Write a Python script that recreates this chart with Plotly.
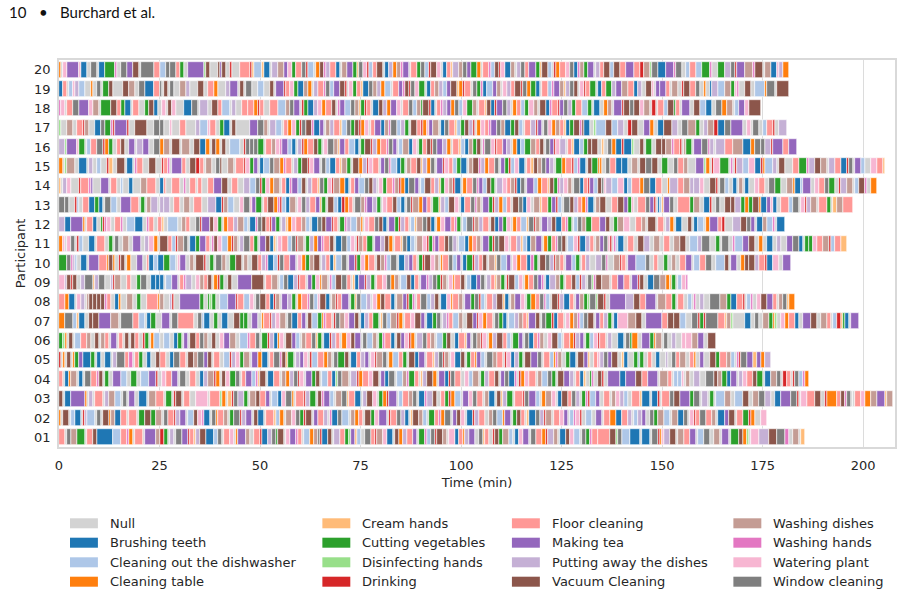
import plotly.graph_objects as go

# ---------------------------------------------------------------- data ----
# Activity codes -> legend names and colours
ACTIVITY_NAMES = {
    "N": "Null",
    "B": "Brushing teeth",
    "D": "Cleaning out the dishwasher",
    "T": "Cleaning table",
    "C": "Cream hands",
    "V": "Cutting vegetables",
    "I": "Disinfecting hands",
    "K": "Drinking",
    "F": "Floor cleaning",
    "M": "Making tea",
    "P": "Putting away the dishes",
    "U": "Vacuum Cleaning",
    "W": "Washing dishes",
    "H": "Washing hands",
    "L": "Watering plant",
    "G": "Window cleaning",
}
ACTIVITY_COLORS = {
    "N": "#d3d3d3", "B": "#1f77b4", "D": "#aec7e8", "T": "#ff7f0e",
    "C": "#ffbb78", "V": "#2ca02c", "I": "#98df8a", "K": "#d62728",
    "F": "#ff9896", "M": "#9467bd", "P": "#c5b0d5", "U": "#8c564b",
    "W": "#c49c94", "H": "#e377c2", "L": "#f7b6d2", "G": "#7f7f7f",
}
LEGEND_COLUMNS = [
    ["N", "B", "D", "T"],
    ["C", "V", "I", "K"],
    ["F", "M", "P", "U"],
    ["W", "H", "L", "G"],
]

PARTICIPANTS = ["01", "02", "03", "04", "05", "06", "07", "08", "09", "10",
                "11", "12", "13", "14", "15", "16", "17", "18", "19", "20"]
X_TICKS = [0, 25, 50, 75, 100, 125, 150, 175, 200]

# Each token: activity code + duration in half-minutes, in time order
UNIT_MIN = 0.5

SEQ_01 = """F3 N1 G2 W3 V4 N1 F3 U2 B8 D4 F3 H1 T2 N1 F4 N1 M5 W2 K2 V2
N1 P2 N1 G3 M3 K1 F2 C1 P2 U3 B4 D2 G2 N1 F3 L2 N1 T1 M4 W2
N2 F3 K1 B3 P2 G2 V1 U3 N1 L2 M3 H1 F2 N1 D3 T2 W2 G1 K1 B3
U2 N1 P3 F2 V2 I1 M2 C1 D2 N2 G3 F2 K1 W3 L2 B3 N1 U2 T2 P2
F3 M2 N1 V3 H1 D2 G2 K1 U3 W2 N1 L3 B2 F2 T1 P2 M3 N2 G2 C1
F2 N2 K1 U2 V2 W3 D2 N1 B2 L2 M3 N1 G2 F3 T2 K1 P3 W2 N1 B3
U2 L2 D3 N1 G2 V2 H1 F3 F6 U3 I1 G2 D4 B5 N1 B4 N1 G3
K1 T1 L1 P3 U3 N1 W3 F3 M3 N1 D3 G3 N2 W3 N1 M3 N1 V4 U2 T2
I1 N1 L4 P5 U4 G4 H2 N2 W3 N1 C2"""

SEQ_02 = """T1 N1 U3 N1 D2 B3 N1 K1 P1 D4 N1 G2 N1 U3 T1 W2 B3 F3 N1 F4
N1 V3 U3 V2 W3 N1 G2 F3 K1 P2 M3 N1 D3 U2 L2 H1 B3 N1 G2 T1
F3 W2 N1 V2 G3 K1 P2 M3 N1 U2 B3 N1 F4 C1 D2 T2 N1 W3 L2 G2
V2 K1 U3 N1 M2 F3 P2 N1 H1 B3 G2 D3 N1 W2 T2 F2 N1 U3 V2 L2
M4 N1 K1 F3 G2 P2 B2 N1 C1 U3 W2 D2 N1 V3 F2 H1 T2 G3 N1 M2
U2 L2 N1 B3 K1 P2 F3 N2 W2 G2 D3 T1 M3 N1 V2 U2 F2 N1 C1 B3
G2 P2 K1 W3 N1 F3 L2 M2 N1 D2 H1 L2 K1 N2 D3 N2 M3 N1 F3 T3
B3 F3 P2 N1 D2 P2 M2 N2 G2 V2 W3 D3 N1 W3 B3 G2 N1 L2 K1 F2
G3 F3 W2 N1 B3 M2 U3 N1 F3 V3 K1 T2 N3 L3"""

SEQ_03 = """U2 N1 B3 M7 T1 N1 P2 N1 F4 N1 P2 W3 D3 N1 G2 N1 M3 N2 B4 N1
W3 F4 N1 V3 N1 K1 U3 N1 F3 N3 L6 N1 F5 I1 T2 N1 C2 K1 G2 P3
V2 N1 W3 U2 F3 M2 N1 D3 B2 L2 G3 T1 N1 F4 K1 P2 V3 N1 U2 H1
M3 D2 N1 W3 G2 C1 F3 B3 N1 P2 U3 L2 N1 V2 T2 K1 M4 N1 D2 F3
W2 G2 N1 B3 H1 P3 U2 N2 F2 V2 K1 T2 D3 N1 M3 L2 G2 F3 N1 W2
B3 N1 U2 C1 P2 V3 N1 F4 K1 G2 M3 D2 N1 T2 W3 L2 N1 B2 U3 F2
G2 P2 N1 V2 H1 K1 D3 M2 N2 F3 N1 W2 L2 P2 D2 N2 F4 C1 B4 N1
B3 K1 N1 F4 G2 U3 M5 V2 G3 N1 P3 N1 V2 N1 D4 W3 N2 D4 U3 N2
W3 G3 P3 N2 B3 M5 G3 K1 N1 L3 F4 U3 N2 K1 T5 F2 U2 H1 G2 N1
N1 F3 L2 T3 W3 M4 C1 W3"""

SEQ_04 = """F2 N1 B2 T1 W3 N1 B2 N1 G3 F3 H1 U2 N1 V2 N2 M4 D3 N2 V3 N2
D4 M3 K1 N2 L2 F3 M3 N1 G3 N2 F3 N2 B2 P2 W3 K1 T2 N1 U2 L2
V3 G2 N1 F2 M3 D2 H1 C1 U3 N1 B3 F3 N1 W2 T2 P2 G2 K1 L2 N1
M3 V2 U2 N1 D3 F2 B2 I1 G2 W3 N1 P3 K1 T2 F3 L2 U3 N1 M2 B2
G3 N1 D3 W2 H1 V3 F2 N1 C1 P2 U3 T2 N1 M3 B2 K1 G2 F3 N2 L2
D2 W3 N1 V2 P2 F3 U2 N1 M2 G2 B3 H1 N1 K1 T2 L2 F3 N1 W2 D3
G2 V2 N1 U3 M3 P2 N1 F2 B2 C1 N2 V1 H1 N2 U2 K1 N2 M6 B3 M5
U3 F3 M5 N1 W4 F2 N1 D2 D2 L1 N1 W2 N2 P3 N3 G4 U2 W2 V2 B2
M3 N1 P2 L2 F3 U2 V3 N1 B3 W3 G2 N1 K2 F2 N1 K1 G2 D2 H1 T2"""

SEQ_05 = """K1 N1 T1 N1 U2 N1 T1 V2 M2 B4 V2 N1 B2 N2 B3 N1 P2 G4 F2 H2
N1 F2 V2 N2 B2 N2 U2 F3 N2 B2 G3 F3 N1 U3 W2 G3 M2 U2 N1 F3
N2 D3 K1 P2 L2 V2 W3 N1 M3 T2 B3 N1 F2 G3 H1 U2 C1 V3 N1 P2
M2 L2 N1 K1 D3 F3 T2 W2 N1 G2 V3 U2 N1 B3 F2 P2 M2 N1 L2 K1
W3 G2 N1 T2 D3 F2 V2 N1 U3 B2 M3 N1 F3 C1 P2 G2 K1 W2 N1 L2
B3 U2 N1 V2 F2 T1 M2 D2 N1 G3 W2 F3 N1 K1 L2 B2 P2 V2 N1 U3
M3 G2 N1 F3 D2 T1 H1 W2 N2 V2 B3 N1 U3 M2 C1 N2 F2 L1 P2 G2
M2 U3 N2 C1 B2 N3 V2 D1 V2 N2 F2 N2 B2 N3 P1 N2 G2 F2 W3 N2
F2 T1 N2 M2 N3 U3 V2 F3 W2 D2 N1 H1 K1 G3 M3 C2 M2 T2 P3"""

SEQ_06 = """V2 I1 T1 N1 U2 N1 D3 F3 W2 N2 U2 N1 W2 F2 N1 M3 N1 F2 N1 U2
N1 U2 F2 N2 K1 V2 N1 T1 D3 N2 D3 N2 B2 V2 N1 M2 N1 U3 F2 G2
W2 N2 U2 N2 L2 M3 W3 N2 D4 H1 F3 G2 N1 V3 K1 P2 B2 T1 L2 N1
U3 M2 D2 N1 W2 F3 G2 C1 V2 N1 B3 K1 P2 F2 N1 T2 L2 U2 M3 N1
G2 D3 W2 N1 V2 H1 F3 B2 N1 U2 M2 L2 K1 T2 N1 P3 G2 F2 W2 N1
D3 V2 U2 N2 B2 F3 C1 M2 N1 G2 W2 K1 L2 N1 T2 P2 U3 F2 D2 N1
V3 M2 N1 G2 B2 F2 H1 W2 N2 L2 U3 D2 N1 F3 T2 K1 P2 M2 N1 V2
D2 L2 K1 F3 N1 P2 N3 B3 N1 G2 V1 T3 N2 M4 V2 T1 W3 N1 G2 N2
P2 N3 L2 L3 W3 M3 N2 U4"""

SEQ_07 = """T3 G4 D2 C1 B3 N2 U2 U3 M6 W4 N1 G6 F3 D3 N1 B2 V2 N3 M4 N1
G3 F8 N2 G2 D1 B3 N2 V2 N2 B3 N3 U3 V2 V2 N2 M3 N2 T1 F3 K1
P2 L2 W3 N1 G2 B3 F2 M2 N1 U2 D3 V2 T1 H1 F3 N1 K1 G2 W2 L2
M3 U2 N1 B2 P2 F2 V3 N1 C1 G2 D2 W3 K1 T2 N1 F3 L2 U3 M2 N1
B3 V2 G2 N1 P2 H1 F2 D3 W2 N2 U3 M2 K1 L2 T2 F3 N1 G2 V2 B2
N1 D3 P2 W2 F2 C1 M3 U2 N1 G2 V3 K1 B2 F3 N1 L2 T2 W2 H1 D2
G2 U3 N1 M2 F2 P2 V2 N1 B2 L5 W4 U3 N2 M8 F3 U3 U3 D3 N3
G3 K1 V2 K1 G6 F3 C1 W2 I1 N6 B3 N2 G2 N2 W3 V2 T1 I1 N2 L2
T2 F3 B2 N2 M4 U3 N2 W3 F2 N1 D2 K2 C1 V1 B2 N1 M4"""

SEQ_08 = """F3 T2 B3 N1 L2 P2 N1 W1 U2 U2 U2 U2 H1 F2 N2 B2 T1 N3 W3 N2
V2 N3 F5 T1 W2 N3 P1 K1 N3 M10 V2 N2 V1 I1 V2 N2 D4 M4 K1 F3
D3 L2 N1 G2 U3 F2 B2 K1 W2 N1 M3 P2 V2 N1 T2 F3 H1 G2 D2 L1
U3 B2 N1 W2 K1 F2 M3 N1 V2 C1 G2 D3 P2 N1 L2 T2 U2 F3 B2 N1
W3 M2 K1 V2 H1 N1 F2 G3 D2 P2 U2 N1 B3 L2 T1 F3 W2 N1 M3 V2
G2 K1 D2 N1 F3 P2 U3 C1 B2 N1 W2 M3 L2 N1 V2 T2 F2 G2 H1 D2
N1 U3 K1 P2 B3 F2 N1 M2 W2 V2 I1 G3 I1 U3 K1 N2 M8 P4 U3 F3
M5 N1 W4 F3 V2 N1 F3 N2 D2 N1 H1 N2 P2 N3 G5 W3 V2 B3 F3 K1
N1 D2 H1 N2 L2 U3 M3 F2 N1 W2 G2 C1 T3"""

SEQ_09 = """L3 P1 U2 K1 U2 N2 P2 G4 C1 P2 G3 N3 P1 K1 W3 N3 F2 N3 V2 G3
N2 B2 B2 B2 N1 D3 M3 N1 F2 H1 P3 N2 L2 W2 F2 U2 N1 T2 K1 V2
N2 U2 N3 M7 U6 N1 F3 W3 N1 D2 G2 B3 P2 K1 F3 N1 M2 V2 L2 T1
W3 N1 H1 D2 U3 G2 F2 N1 C1 B2 M3 K1 P2 V2 N1 F3 L2 G2 T2 W2
N1 D3 U2 B2 F2 N1 M3 H1 P2 G2 V2 K1 W2 N1 L2 T1 F3 U2 N1 D2
B3 M2 G2 N1 P2 F2 C1 W2 V2 N1 K1 U3 D2 L2 N1 T2 F2 G2 M2 H1
N1 B2 P3 W2 V2 N1 F3 U2 D2 K1 P2 N1 G2 I1 H1 U3 W4 N1 F3 M3
F3 N1 M3 K1 U2 N2 B3 G3 W3 T2 C1 V2 N1 D2 L2 H1"""

SEQ_10 = """V4 G2 H1 P1 D1 N2 B3 N1 M5 F4 T1 U2 T1 N2 K1 U2 N1 T2 N3 M3
N2 F1 B2 D2 B3 V3 D3 N1 L1 M3 N2 W2 N1 U4 K1 N2 V2 N1 G3 W2
N2 V3 U3 N1 W2 N2 U3 F2 P2 H1 B3 D2 K1 G2 F3 M3 N1 L2 T2 V2
W2 U3 N1 P2 F2 B2 C1 D3 G2 N1 M3 K1 V2 L2 T2 F3 N1 U2 W2 H1
D2 G3 N1 B3 P2 M2 F2 N1 V2 K1 U3 L2 W2 N1 T1 F3 G2 D2 M2 N1
B2 V3 K1 P2 F2 U2 N1 W3 C1 G2 D3 M2 N1 L2 T2 F3 B2 H1 V2 N1
U3 G2 P2 K1 W2 F2 N1 M3 D2 V2 N1 F2 P2 N3 P3 G2 H1 N3 W3 K1
F2 N1 M4 D5 G2 N2 F2 N3 V2 N2 W2 N2 F3 M3 N1 D3 F3 G3 N2 D4
U2 N1 M3 N2 T2 U2 U3 P2 F3 K1 B3 L3 N2 M4"""

SEQ_11 = """T2 L1 N1 L2 G2 N1 K1 D2 N3 B3 N1 F4 N2 V2 N1 G2 N2 W3 N2 M4
N2 P2 L2 T2 N1 U4 F2 D2 K1 W3 G2 N1 B3 V2 M3 F2 N1 H1 U2 L2
D3 T2 K1 W2 N1 P2 G3 F2 V2 N1 M3 U2 B2 C1 N1 L2 F3 D2 G2 K1
W3 N1 V2 P2 T2 M2 H1 F3 U2 N1 B3 G2 D2 L2 N1 K1 W2 F2 V3 N1
M3 P2 U2 T2 N1 F3 C1 G2 B2 D2 N1 W3 L2 K1 V2 H1 M2 F3 U2 G2
P2 N1 D3 B2 T2 F2 W2 N1 M3 V2 K1 G2 U3 L2 N1 F3 P2 C1 D2 B2
W2 M3 N1 T2 V2 F2 H1 G2 U2 N1 D3 L2 K1 B3 P2 F2 N1 W2 M2 G2
L1 K1 N1 H1 D1 B3 N2 F3 N2 U3 P3 N2 W3 N2 F3 N2 W3 U3 N2 D4
P2 G4 N3 V2 N1 G3 N2 H1 D4 M3 U3 N2 T2 N2 B3 N2 P2 N3 M3 G3
B2 N1 V2 V2 L2 F3 W3 K1 D2 F3 C3"""

SEQ_12 = """P3 B3 M6 T1 N1 F3 B2 N2 V1 K1 H1 L2 N2 F3 H1 N2 D4 B4 N2 H1
F2 N2 F2 C1 N2 D5 N2 W2 F2 N3 G2 K1 M4 U2 L2 V2 N1 T2 F3 P2
W3 D2 N1 B3 H1 G2 U2 F2 K1 M2 V2 N1 P2 C1 T2 L2 F3 W2 D2 N1
B3 G2 U2 M3 K1 F2 N1 V2 H1 P2 D3 W2 T1 N1 L2 F3 G2 U2 B2 N1
M3 V2 K1 P2 F2 N1 D2 C1 W3 G2 U2 B2 N1 T2 L2 M3 F2 H1 V2 N1
D2 G3 K1 W2 P2 F3 N1 U2 B2 M2 V2 L2 N1 T2 F2 D3 C1 G2 K1 W2
N1 M3 P2 U2 B3 F2 H1 V2 N1 D2 G2 W2 V3 F4 M3 U2 N2 V2 W3 L3
N3 F3 W2 N1 U4 N1 F3 N1 P2 T2 N1 B3 N3 U2 N1 B2 D3 N1 T2 M4
F2 K1 N4 P4 U3 G2 M2 N1 B3 W2 D3 H1 N1 B4"""

SEQ_13 = """G3 G2 N3 K1 D1 N2 F3 B3 V2 B2 N1 G3 D3 N2 M5 F4 N1 V2 N1 W2
P3 N1 P2 P3 N2 F3 N2 W3 N2 F4 N3 P4 B3 K1 W2 D3 N3 L2 G3 L1
M2 V3 N1 F2 U3 T2 H1 K1 D2 B2 W3 N1 L2 G2 P2 F3 M2 C1 V2 N1
U3 D2 B2 K1 T2 F2 N1 G3 W2 H1 M3 P2 V2 N1 L2 F3 U2 D2 B2 N1
G2 K1 W3 T2 M2 F2 N1 V3 C1 P2 D2 U3 L2 N1 B2 F3 G2 H1 W2 N1
M3 V2 K1 P2 T2 D2 F2 N1 U3 G2 B2 L2 N1 W3 C1 F3 V2 M2 K1 D2
N1 G3 U2 P2 F2 T2 H1 B3 N1 W2 U3 N3 F3 U3 M2 V2 L1 N2 F4 G2
M2 K1 N1 B1 D1 C1 M3 G2 N2 F6 V2 W3 N2 B3 K1 N2 G2 N2 U3 U2
P3 V2 T2 V2 U3 T1 B3 M2 L1 B2
N2 F4 D2 G3 N1 L2 K1 P2 W3 N1 F4 V2 N1 C2 W3 F5"""

SEQ_14 = """C1 N1 P2 L2 N4 K1 F4 H1 M1 N4 M4 N1 F3 N2 D1 N3 B2 N4 W3 F4
N2 B2 F1 N3 F4 N2 H1 N2 F3 N1 F2 N3 F3 M4 U3 N2 F3 N3 P3 D3
G2 K1 V2 L2 T2 W3 N1 F2 B2 H1 M3 D2 U2 N1 P2 F3 C1 G2 V2 L2
K1 W3 T2 B2 N1 F2 M2 D3 G2 U2 P2 N1 L2 V2 F3 H1 W2 K1 T2 B2
G3 M2 N1 D2 U3 F2 P2 C1 V2 L2 W2 K1 B3 N1 T2 F3 G2 H1 M2 D2
U2 V2 N1 P3 L2 F2 W2 K1 B2 G2 N1 M3 D2 T2 F3 C1 U2 V2 H1 P2
L2 W2 N1 G3 B2 F2 K1 M2 D2 U2 G1 L1 P3 D3 L3 B2 D2 F4 T2 G3
B3 F3 N3 T1 P4 F3 W3 P2 P3 L2 N3 U3 K1 N1 G2 D2 N2 B2 N1 W2
N1 B2 N3 L2 F3 N2 G3 V3 N3 W3
T1 B3 D1 M4 N2 L2 F3 G2 V3 N2 K1 P3 W3 N1 D2 U3 H1 N2 T3"""

SEQ_15 = """T2 N1 I1 W4 N2 B4 N1 P2 N2 D2 N3 K1 C2 N2 U4 N1 B3 N1 H1 F3
N3 U3 N3 K1 F2 H1 N1 M5 F2 N2 U3 K2 F2 N1 W3 N2 G2 U1 N3 W3
N1 F4 K1 L2 V2 M2 N1 B2 D3 G2 W3 T2 H1 F3 N1 P2 V2 U3 K1 L2
M3 N1 G2 D2 B3 F2 C1 W2 V2 N1 U3 T2 P2 K1 L2 F3 N1 M2 G2 H1
D3 B2 V2 N1 W2 F3 U2 C1 P2 T2 G2 N1 M3 K1 L2 F2 D2 V2 B3 N1
W2 U3 H1 P2 T2 F3 G2 N1 M2 V2 K1 D2 L2 B3 N1 F2 C1 U2 W2 G2
M2 P2 N1 V3 T2 F3 K1 D2 H1 B3 N1 U2 V3 T1 T1 N2 G2 F3 B3 B3
N2 W3 N1 U3 G3 U3 N2 V3 N3 G2 F3 W2 N4 M4 I1 T2 N1 K1 L3 V4
N1 H1 N1 K1 P3 D3 L3 B3 K1 T1 D4 P2 N1 U3 N4 F3 V4 H1 P3 U3
W3 N1 P3 F3 B3 K1 G2 N1 M3 D2 N3 L3 F3 C1"""

SEQ_16 = """P3 I1 M5 L1 V3 N1 D2 F3 G3 K1 T2 V2 N2 F2 U2 N2 M3 N1 P3 M3
N2 G3 T2 W3 N1 U4 N1 W4 N2 U3 B3 T2 N1 U2 T2 N1 U2 N2 D5 N2
K1 G2 G2 G2 V3 N1 F3 W2 L2 H1 M3 D2 B2 N1 P2 K1 T2 F3 U2 V2
N1 L2 G3 W2 C1 M2 F2 D3 B2 N1 V2 U3 K1 P2 T2 F3 H1 G2 M2 N1
D2 W3 B2 L2 N1 V2 F2 U2 K1 G2 M3 P2 T2 N1 F3 C1 D2 B2 W2 V2
U2 N1 H1 G3 L2 K1 F3 M2 P2 N1 T2 B2 D2 V3 W2 F2 U2 N1 G2 M2
K1 L2 P3 N1 F2 C1 B3 D2 V2 U2 U3 N2 C1 N2 G2 T2 B3 K1 B4 I1
N3 U2 N1 V3 N2 U3 U2 W3 H1 F3 K1 N1 W1 V3 N1 M4 G3 H1 P2 N1
P4 F4 W5 B4 T2 G3 G2 P3 K1 M5 F3 M4"""

SEQ_17 = """I1 N3 W3 N2 F3 K1 W2 N3 B3 G2 V3 H1 K1 M6 K1 N3 U6 N3 G3 G2
N3 L1 N4 F3 N5 P2 D4 L1 F3 N2 V2 B3 N1 U2 N7 M4 G3 W2 N1 P3
D3 N1 F2 T2 L2 V2 K1 G2 U3 H1 B3 M2 N1 W2 P2 F3 C1 D2 G2 V2
U2 K1 T2 L2 N1 F2 M3 B2 W2 H1 G3 D2 P2 V2 N1 U3 F2 K1 T2 L1
M2 W3 N1 B2 G2 F3 C1 D2 V2 U2 P2 K1 N1 T2 L2 F2 H1 M3 G2 W2
B3 V2 U2 D2 N1 F3 P2 K1 M2 N1 G2 L2 T2 W2 F2 C1 B2 V2 U3 H1
U1 B3 N2 I1 D5 U3 D3 P3 N2 K2 U3 N3 M3 T2 N2 B3 U4 P3 N2 G3
W4 V2 N2 P2 W3 K2 B3 G3 M6 N2 L2 N1 G3 N2 D2 F3 K1 N2 P4"""

SEQ_18 = """H1 L2 N1 F3 G3 M5 L2 W3 N1 V5 U3 F2 V2 B3 N1 F3 N3 V2 U2 B2
N2 L2 N1 U2 L2 N4 B4 G3 N1 P4 N2 U3 F2 D4 N1 P2 N3 F3 F3 T2
K1 F2 N3 F4 D4 W2 G2 M3 N1 K1 V2 B3 P2 L2 T2 F3 U2 N1 H1 M2
D3 G2 W2 C1 V2 K1 F2 N1 B3 U2 P2 T2 M3 L2 N1 F3 G2 D2 W2 V1
U3 K1 B2 N1 F2 H1 P2 M2 T2 G2 D2 L2 V3 W2 N1 F3 C1 U2 B2 K1
M3 G2 P2 N1 T2 F2 D2 V2 L2 W2 N1 U3 B2 H1 F3 K1 M2 G2 P2 V2
F3 D3 V2 N1 B3 N2 T2 W2 N1 M4 K1 U3 G2 U3 L2 W3 N1 K2 N1 F3
D2 U3 V1 F2 N1 M4 N2 U3 D3 B3 N2 G3 T2 W3 N1 D2 M3 L2 U6"""

SEQ_19 = """B2 F2 N1 D2 L1 P2 D3 N3 T1 N2 G2 N1 V3 U2 N5 U3 W3 N2 G3 B4
F3 G1 N1 U2 N1 G2 N3 W3 P2 N4 U3 N2 F3 T2 N4 P2 M4 N1 U2 N1
G3 N3 D3 N3 U2 N1 M4 K1 F2 L2 V2 B3 W2 T2 N1 P2 F3 H1 G2 D2
M3 U2 K1 N1 L2 V2 F2 C1 B3 G2 W2 P2 T2 D3 N1 F3 M2 H1 U2 K1
G2 L2 V3 N1 B2 F2 W2 P2 D2 M2 U3 C1 T2 K1 F3 N1 G2 V2 H1 B2
D3 M2 W2 N1 L2 P2 F2 U3 K1 G2 T2 V2 B2 N1 F3 D2 H1 M3 W2 C1
P2 G2 U2 N1 L2 K1 F2 V3 N1 B2 F2 V3 P2 M3 W3 F3 B2 P2 N2 U3
L1 N1 M2 M3 F2 N1 W3 N2 K1 U3 F3 G2 N2 T1 N2 B1 P3 D3 W3 V2
L1 H1 N3 U3 N2 D5 T1 G4 N1 U6"""

SEQ_20 = """T1 N1 L2 M6 L1 B3 N2 G3 N1 B3 V5 H1 N2 G3 M3 U3 N1 G6 F3 D3
G2 G3 F2 V2 N2 M8 I1 U2 N4 U1 M1 U2 N2 K1 N4 F5 K1 C1 D4 C1
B3 N1 P3 W3 M2 L2 V2 F3 G2 K1 D3 N1 T2 U2 H1 P2 F3 B2 N1 W2
M3 V2 C1 G2 L2 K1 D2 F2 U3 N1 B2 P2 T2 W2 H1 M3 N1 F3 V2 G2
D2 K1 U3 L2 N1 B2 F2 C1 P3 W2 G2 M2 V3 T2 N1 F3 H1 D2 U2 K1
L2 B3 W2 N1 P2 G2 F2 M3 V2 C1 U3 D2 N1 K1 T2 F3 L2 G2 B2 H1
W2 V2 M3 N1 P2 F2 U3 D2 U3 F3 M4 F3 K2 W3 I1 G3 B4 M4
H1 G3 N2 D2 F3 D3 V4 H1 N3 V3
P3 G2 K1 M4 W4 H1 U4 N1 W3 B3 L1 P2 T3"""

SEQUENCES = [SEQ_01, SEQ_02, SEQ_03, SEQ_04, SEQ_05, SEQ_06, SEQ_07,
             SEQ_08, SEQ_09, SEQ_10, SEQ_11, SEQ_12, SEQ_13, SEQ_14,
             SEQ_15, SEQ_16, SEQ_17, SEQ_18, SEQ_19, SEQ_20]

# ------------------------------------------------------------- segments ----
segs = {code: {"y": [], "base": [], "x": []} for code in ACTIVITY_NAMES}
for label, seq in zip(PARTICIPANTS, SEQUENCES):
    t = 0.0
    for tok in seq.split():
        code, dur = tok[0], int(tok[1:]) * UNIT_MIN
        segs[code]["y"].append(label)
        segs[code]["base"].append(t)
        segs[code]["x"].append(dur)
        t += dur

fig = go.Figure()
for code, name in ACTIVITY_NAMES.items():
    fig.add_trace(go.Bar(
        orientation="h", name=name,
        y=segs[code]["y"], x=segs[code]["x"], base=segs[code]["base"],
        width=0.82,
        marker=dict(color=ACTIVITY_COLORS[code],
                    line=dict(color="white", width=0.6)),
        showlegend=False, hoverinfo="skip",
    ))

# ---------------------------------------------------------------- layout ---
PLOT_L, PLOT_R, PLOT_T, PLOT_B = 59, 897, 60, 447
W, H = 904, 596
TXT = "#262626"
FONT = "DejaVu Sans"


def px_x(px):
    return (px - PLOT_L) / (PLOT_R - PLOT_L)


def px_y(py):
    return (PLOT_B - py) / (PLOT_B - PLOT_T)


fig.update_layout(
    width=W, height=H,
    margin=dict(l=PLOT_L, r=W - PLOT_R, t=PLOT_T, b=H - PLOT_B),
    paper_bgcolor="white", plot_bgcolor="white",
    barmode="overlay", bargap=0,
    font=dict(family=FONT, size=13, color=TXT),
    xaxis=dict(
        range=[0, 207.9], tickvals=X_TICKS, ticktext=[str(v) for v in X_TICKS],
        showgrid=True, gridcolor="#dcdcdc", gridwidth=1.2,
        zeroline=False, showline=True, linecolor="#d9d9d9", linewidth=1.5,
        mirror=True, ticks="", ticklabelstandoff=6,
        title=dict(text="Time (min)", standoff=6,
                   font=dict(family=FONT, size=13, color=TXT)),
        tickfont=dict(family=FONT, size=13, color=TXT),
    ),
    yaxis=dict(
        type="category", categoryorder="array", categoryarray=PARTICIPANTS,
        range=[-0.5, 19.5], showgrid=False, zeroline=False,
        showline=True, linecolor="#d9d9d9", linewidth=1.5, mirror=True,
        ticks="", ticklabelstandoff=4,
        title=dict(text="Participant", standoff=6,
                   font=dict(family=FONT, size=13, color=TXT)),
        tickfont=dict(family=FONT, size=13, color=TXT),
    ),
)

# page header
HEADER_FONT = dict(family="Lato", size=15, color="#111111")
for text, px in [("10", 7), ("•", 37), ("Burchard et al.", 58)]:
    fig.add_annotation(text=text, xref="paper", yref="paper",
                       x=px_x(px), y=px_y(12), xanchor="left", yanchor="middle",
                       showarrow=False, font=HEADER_FONT)

# legend (4 columns, column-major order)
SWATCH_X = [70, 323, 513, 735]
TEXT_X = [108, 361, 551, 773]
ROW_Y = [523.3, 542.7, 562.3, 581.7]
for ci, col in enumerate(LEGEND_COLUMNS):
    for ri, code in enumerate(col):
        yc = ROW_Y[ri]
        fig.add_shape(type="rect", xref="paper", yref="paper",
                      x0=px_x(SWATCH_X[ci]), x1=px_x(SWATCH_X[ci] + 28),
                      y0=px_y(yc + 5), y1=px_y(yc - 5),
                      fillcolor=ACTIVITY_COLORS[code], line=dict(width=0))
        fig.add_annotation(text=ACTIVITY_NAMES[code], xref="paper", yref="paper",
                           x=px_x(TEXT_X[ci]), y=px_y(yc), xanchor="left",
                           yanchor="middle", showarrow=False,
                           font=dict(family=FONT, size=13, color=TXT))

fig.write_html("out.html")
